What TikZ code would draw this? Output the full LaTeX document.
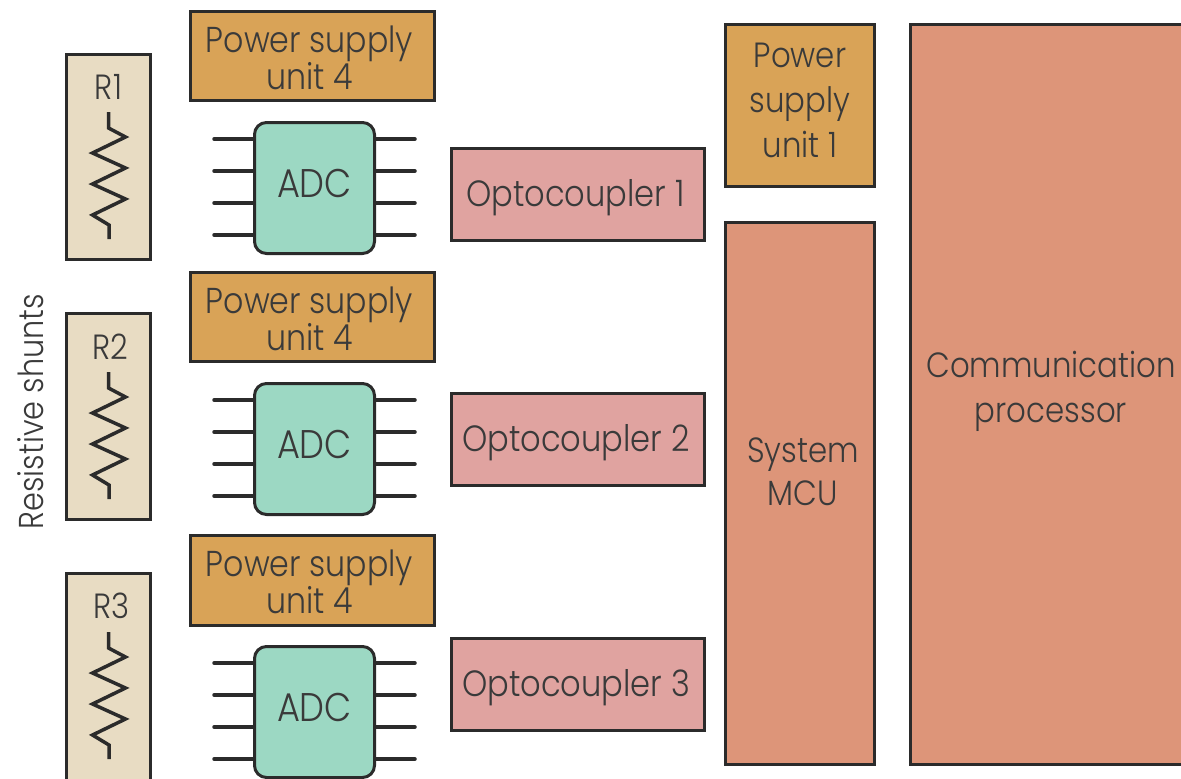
\documentclass[tikz,border=0pt]{standalone}
\usepackage{fontspec}
\setmainfont{Poppins}[UprightFont=* Light,FakeStretch=0.88]
\definecolor{ink}{HTML}{2B2B2B}
\definecolor{txt}{HTML}{3A3A3A}
\definecolor{tanc}{HTML}{E8DCC3}
\definecolor{orangec}{HTML}{D9A357}
\definecolor{tealc}{HTML}{9CD8C3}
\definecolor{pinkc}{HTML}{E0A3A0}
\definecolor{salmonc}{HTML}{DD9579}
\tikzset{
 x=1pt,y=-1pt,
 box/.style={draw=ink,line width=3pt,inner sep=0pt},
 shunt/.style={box,fill=tanc,minimum width=84pt},
 psu/.style={box,fill=orangec},
 opto/.style={box,fill=pinkc,minimum width=253pt,minimum height=92pt},
 proc/.style={box,fill=salmonc},
 adcbox/.style={box,fill=tealc,rounded corners=12pt,minimum width=120pt,minimum height=131pt},
 pin/.style={draw=ink,line width=3.5pt,line cap=round},
 zig/.style={draw=ink,line width=3.5pt,line join=miter},
 lbl/.style={text=txt,inner sep=0pt,align=center,font=\fontsize{35}{45}\selectfont},
 tight/.style={font=\fontsize{36}{36}\selectfont},
 adclbl/.style={lbl,font=\fontsize{40}{45}\selectfont},
 optolbl/.style={lbl,font=\fontsize{36.5}{45}\selectfont},
}
\begin{document}
\begin{tikzpicture}
\useasboundingbox (0,0) rectangle (1181,779);
\clip (0,0) rectangle (1181,779);
\node[shunt,minimum height=205pt] (s1) at (108.5,157) {};
\node[shunt,minimum height=206pt] (s2) at (108.5,416.5) {};
\node[shunt,minimum height=230pt] (s3) at (108.5,688) {};
\node[lbl] (r1) at (108.5,87) {R1};
\node[lbl] (r2) at (110.5,347) {R2};
\node[lbl] (r3) at (111.5,606) {R3};
\node[lbl,rotate=90,font=\fontsize{34.5}{36}\selectfont] (rs) at (31,411.5) {Resistive shunts};
\foreach \n/\t in {1/112,2/372,3/632}{
 \draw[zig] (108.5,\t) -- ++(0,16) -- ++(17,9) -- ++(-33,16) -- ++(33,15) -- ++(-33,16) -- ++(33,15) -- ++(-33,16) -- ++(16.5,10) -- ++(0,14);
}
\node[psu,minimum width=244pt,minimum height=89pt] (p1) at (312.5,56) {};
\node[psu,minimum width=244pt,minimum height=89pt] (p2) at (312.5,317) {};
\node[psu,minimum width=244pt,minimum height=90pt] (p3) at (312.5,580.5) {};
\node[lbl,tight] (pt1) at (309.5,58) {Power supply\\unit 4};
\node[lbl,tight] (pt2) at (309.5,319) {Power supply\\unit 4};
\node[lbl,tight] (pt3) at (309.5,582) {Power supply\\unit 4};
\foreach \n/\c in {1/188,2/449,3/712}{
 \foreach \d in {-49,-17,15,47}{
  \coordinate (l\n\d) at (214,\c+\d);
  \coordinate (r\n\d) at (415,\c+\d);
  \draw[pin] (l\n\d) -- (254,\c+\d);
  \draw[pin] (r\n\d) -- (375,\c+\d);
 }
}
\node[adcbox] (a1) at (314.5,188) {};
\node[adcbox] (a2) at (314.5,449) {};
\node[adcbox] (a3) at (314.5,712) {};
\node[adclbl] (at1) at (314.5,183.5) {ADC};
\node[adclbl] (at2) at (314.5,444.5) {ADC};
\node[adclbl] (at3) at (314.5,707.5) {ADC};
\node[opto] (o1) at (578,194.5) {};
\node[opto] (o2) at (578,439.5) {};
\node[opto] (o3) at (578,684.5) {};
\node[optolbl] (ot1) at (575.5,198) {Optocoupler 1};
\node[optolbl] (ot2) at (576,443) {Optocoupler 2};
\node[optolbl] (ot3) at (576,688) {Optocoupler 3};
\node[psu,minimum width=149pt,minimum height=162pt] (pu) at (800,105.5) {};
\node[lbl] (put) at (800,100) {Power\\supply\\unit 1};
\node[proc,minimum width=149pt,minimum height=542pt] (mcu) at (800,493.5) {};
\node[lbl,font=\fontsize{35}{43}\selectfont] (mcut) at (803,472) {System\\MCU};
\node[proc,minimum width=281pt,minimum height=740pt] (cp) at (1051,394.5) {};
\node[lbl] (cpt) at (1051,391) {Communication\\processor};
\end{tikzpicture}
\end{document}
